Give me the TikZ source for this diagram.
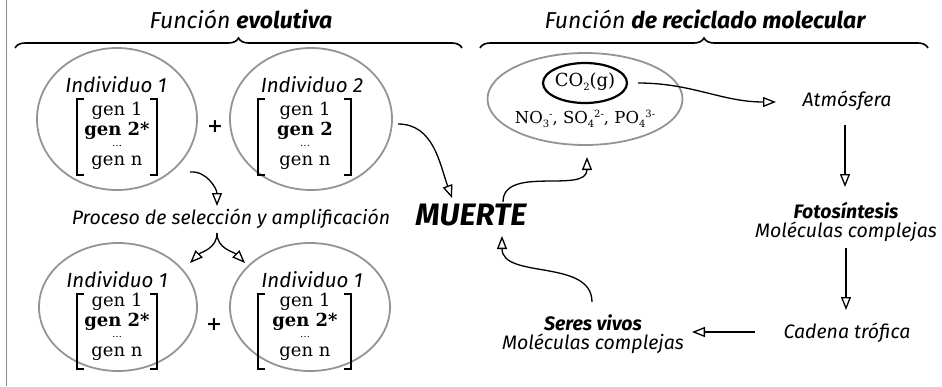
\documentclass[tikz,border=0pt]{standalone}
\usepackage{fontspec}
\setmainfont{DejaVu Serif}
\newfontfamily\hand{Fira Sans}
\usetikzlibrary{arrows.meta,shapes.geometric,decorations.pathreplacing}
\newcommand\mysub[1]{\raisebox{-3.5pt}{\fontsize{10}{10}\selectfont #1}}
\newcommand\mysup[1]{\raisebox{6pt}{\fontsize{10}{10}\selectfont #1}}
\tikzset{
  cell/.style={ellipse, draw=black!42, line width=1.8pt, inner sep=0pt},
  ttl/.style={font=\hand\itshape\fontsize{23}{26}\selectfont, inner sep=0pt},
  hw/.style={font=\hand\itshape\fontsize{19.5}{22}\selectfont, inner sep=0pt},
  ind/.style={font=\hand\itshape\fontsize{20.5}{23}\selectfont, inner sep=0pt},
  gene/.style={font=\fontsize{18}{20}\selectfont, inner sep=0pt},
  genb/.style={font=\bfseries\fontsize{18}{20}\selectfont, inner sep=0pt},
  ionf/.style={font=\fontsize{16.5}{20}\selectfont, inner sep=0pt},
  dots/.style={font=\fontsize{10}{10}\selectfont, inner sep=0pt},
  conn/.style={line width=1.3pt, -{Triangle[open,length=13pt,width=10pt,line width=1.3pt]}},
  brk/.style={line width=1.7pt},
  bigbrace/.style={decorate, decoration={brace, amplitude=10pt}, line width=1.6pt},
}
\begin{document}
\begin{tikzpicture}[x=1pt,y=-1pt]
\useasboundingbox (0,0) rectangle (942,386);
\fill[white] (0,0) rectangle (942,386);
\draw[black!45, line width=1pt] (6,0) -- (6,386);

% titles and braces
\node[ttl] (t1) at (241,19) {Función \textbf{evolutiva}};
\node[ttl] (t2) at (705,19) {Función \textbf{de reciclado molecular}};
\draw[bigbrace] (15,48) -- (462,48);
\draw[bigbrace] (480,48) -- (928,48);

% individuals (top)
\node[cell, minimum width=160pt, minimum height=142pt] (i1) at (117,119) {};
\node[ind] (i1t) at (116,85) {Individuo 1};
\node[gene] (i1a) at (117,111) {gen 1};
\node[genb] (i1b) at (117,131) {gen 2*};
\node[dots] (i1c) at (117,146) {\dots};
\node[gene] (i1d) at (117,163) {gen n};
\draw[brk] (84,99) -- (77,99) -- (77,175) -- (84,175);
\draw[brk] (150,99) -- (157,99) -- (157,175) -- (150,175);

\node[cell, minimum width=162pt, minimum height=142pt] (i2) at (311,119) {};
\node[ind] (i2t) at (312,85) {Individuo 2};
\node[gene] (i2a) at (305,111) {gen 1};
\node[genb] (i2b) at (305,131) {gen 2};
\node[dots] (i2c) at (305,146) {\dots};
\node[gene] (i2d) at (305,163) {gen n};
\draw[brk] (265,99) -- (258,99) -- (258,175) -- (265,175);
\draw[brk] (344,99) -- (351,99) -- (351,175) -- (344,175);

\node[font=\bfseries\fontsize{19}{22}\selectfont] (plus1) at (215,127) {+};

% process
\node[hw] (p) at (231,219) {Proceso de selección y amplificación};
\coordinate (pin) at (217,206);
\coordinate (pout) at (217,233);

% individuals (bottom)
\node[cell, minimum width=158pt, minimum height=128pt] (i3) at (118,307) {};
\node[ind] (i3t) at (117,280) {Individuo 1};
\node[gene] (i3a) at (117,302) {gen 1};
\node[genb] (i3b) at (117,322) {gen 2*};
\node[dots] (i3c) at (117,337) {\dots};
\node[gene] (i3d) at (117,354) {gen n};
\draw[brk] (84,294) -- (77,294) -- (77,369) -- (84,369);
\draw[brk] (150,294) -- (157,294) -- (157,369) -- (150,369);

\node[cell, minimum width=160pt, minimum height=128pt] (i4) at (310,307) {};
\node[ind] (i4t) at (312,280) {Individuo 1};
\node[gene] (i4a) at (305,302) {gen 1};
\node[genb] (i4b) at (305,322) {gen 2*};
\node[dots] (i4c) at (305,337) {\dots};
\node[gene] (i4d) at (305,354) {gen n};
\draw[brk] (265,294) -- (258,294) -- (258,369) -- (265,369);
\draw[brk] (344,294) -- (351,294) -- (351,369) -- (344,369);

\node[font=\bfseries\fontsize{19}{22}\selectfont] (plus2) at (214,325) {+};

\coordinate (b1) at (190,263);
\coordinate (b2) at (245,263);

% MUERTE
\node[font=\hand\itshape\bfseries\fontsize{31}{34}\selectfont, inner sep=0pt] (m) at (471,215) {MUERTE};
\coordinate (min) at (452,198);
\coordinate (mout) at (503,202);
\coordinate (mbot) at (502,236);

% molecular pool
\node[cell, minimum width=195pt, minimum height=92pt] (pool) at (585,99) {};
\node[ellipse, draw=black, line width=2.2pt, minimum width=84pt, minimum height=40pt, inner sep=0pt] (co2) at (585,83) {};
\node[gene] (co2t) at (585,82) {CO\mysub{2}(g)};
\node[ionf] (ions) at (585,119) {NO\mysub{3}\mysup{-}, SO\mysub{4}\mysup{2-}, PO\mysub{4}\mysup{3-}};
\coordinate (poolin) at (587,157);

% cycle
\node[hw] (atm) at (847,101) {Atmósfera};
\node[hw, align=center] (foto) at (846,222) {\textbf{Fotosíntesis}\\[-3pt]Moléculas complejas};
\node[hw] (cad) at (847,333) {Cadena trófica};
\node[hw, align=center] (ser) at (593,334) {\textbf{Seres vivos}\\[-3pt]Moléculas complejas};

\coordinate (i1o) at (190,172);
\coordinate (i2o) at (398,124);
\coordinate (co2o) at (638,83);
\coordinate (atmi) at (776,102);
\coordinate (atmo) at (845,125);
\coordinate (fotoi) at (845,187);
\coordinate (fotoo) at (846,248);
\coordinate (cadi) at (846,310);
\coordinate (cado) at (755,332);
\coordinate (seri) at (692,332);
\coordinate (sero) at (592,302);

% connectors
\draw[conn] (i1o) to[out=5,in=90] (pin);
\draw[conn] (pout) to[out=-90,in=45] (b1);
\draw[conn] (pout) to[out=-90,in=135] (b2);
\draw[conn] (i2o) to[out=0,in=110] (min);
\draw[conn] (mout) to[out=90,in=-90] (poolin);
\draw[conn] (co2o) to[out=0,in=180] (atmi);
\draw[conn] (atmo) -- (fotoi);
\draw[conn] (fotoo) -- (cadi);
\draw[conn] (cado) -- (seri);
\draw[conn] (sero) to[out=90,in=-90] (mbot);
\end{tikzpicture}
\end{document}
